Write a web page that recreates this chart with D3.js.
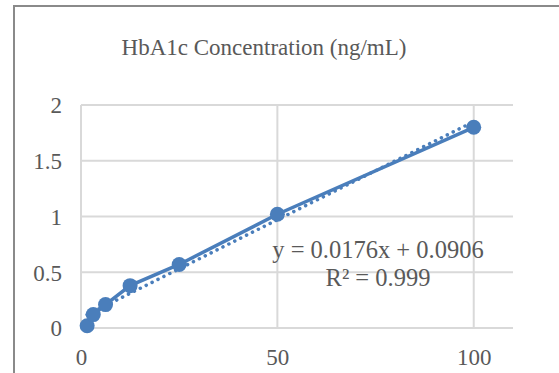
<!DOCTYPE html>
<html>
<head>
<meta charset="utf-8">
<script src="https://cdn.jsdelivr.net/npm/d3@7"></script>
<style>
  html, body { margin: 0; padding: 0; background: #fff; }
  svg { display: block; }
  text { font-family: "Liberation Serif", "Times New Roman", serif; fill: #595959; }
</style>
</head>
<body>
<svg id="chart" width="559" height="373"></svg>
<script>
const concentrations = [1.5625, 3.125, 6.25, 12.5, 25, 50, 100];
const readings = [0.02, 0.12, 0.21, 0.38, 0.57, 1.02, 1.80];
const xTicks = [0, 50, 100];
const yTicks = [0, 0.5, 1, 1.5, 2];
const trendSlope = 0.0176;
const trendIntercept = 0.0906;
const chartTitle = 'HbA1c Concentration (ng/mL)';
const equationLines = ['y = 0.0176x + 0.0906', 'R² = 0.999'];

const blue = '#4a7ebb';
const grid = '#d9d9d9';
const serif = '"Liberation Serif", "Times New Roman", serif';

const svg = d3.select('#chart');

// chart frame (cut off at right and bottom in the source picture)
svg.append('rect')
  .attr('x', 14).attr('y', 6)
  .attr('width', 600).attr('height', 420)
  .attr('fill', 'none')
  .attr('stroke', '#8a8a8a')
  .attr('stroke-width', 2);

const x = d3.scaleLinear().domain([0, 110]).range([81, 513]);
const y = d3.scaleLinear().domain([0, 2]).range([328, 105]);

// gridlines
svg.append('g')
  .selectAll('line')
  .data(yTicks)
  .join('line')
    .attr('x1', x(0)).attr('x2', x(110))
    .attr('y1', d => y(d)).attr('y2', d => y(d))
    .attr('stroke', grid)
    .attr('stroke-width', 2);

svg.append('g')
  .selectAll('line')
  .data(xTicks)
  .join('line')
    .attr('x1', d => x(d)).attr('x2', d => x(d))
    .attr('y1', y(0)).attr('y2', y(2))
    .attr('stroke', grid)
    .attr('stroke-width', 2);

// axes (labels only, lines drawn as gridlines above)
const xAxis = svg.append('g')
  .attr('transform', `translate(0, ${y(0)})`)
  .call(d3.axisBottom(x).tickValues(xTicks).tickSize(0).tickPadding(21));
const yAxis = svg.append('g')
  .attr('transform', `translate(${x(0) - 19}, 0)`)
  .call(d3.axisLeft(y).tickValues(yTicks).tickSize(0).tickPadding(0).tickFormat(d3.format('')));

[xAxis, yAxis].forEach(a => {
  a.attr('font-family', serif);
  a.select('.domain').remove();
  a.selectAll('text')
    .attr('fill', '#595959')
    .style('font-family', serif)
    .style('font-size', '23px');
});
xAxis.selectAll('text').attr('dy', '0.71em');
yAxis.selectAll('text').attr('dy', '0.34em');

// title
svg.append('text')
  .attr('x', 264).attr('y', 55)
  .attr('text-anchor', 'middle')
  .style('font-family', serif)
  .style('font-size', '23px')
  .text(chartTitle);

const pts = concentrations.map((c, i) => [c, readings[i]]);

// linear trendline (dotted)
const xMin = d3.min(concentrations), xMax = d3.max(concentrations);
svg.append('line')
  .attr('x1', x(xMin)).attr('y1', y(trendSlope * xMin + trendIntercept))
  .attr('x2', x(xMax)).attr('y2', y(trendSlope * xMax + trendIntercept))
  .attr('stroke', blue)
  .attr('stroke-width', 3.5)
  .attr('stroke-linecap', 'round')
  .attr('stroke-dasharray', '0.1 6.5');

// connecting line
svg.append('path')
  .datum(pts)
  .attr('fill', 'none')
  .attr('stroke', blue)
  .attr('stroke-width', 3.5)
  .attr('d', d3.line().x(d => x(d[0])).y(d => y(d[1])));

// markers
svg.append('g')
  .selectAll('circle')
  .data(pts)
  .join('circle')
    .attr('cx', d => x(d[0]))
    .attr('cy', d => y(d[1]))
    .attr('r', 7.5)
    .attr('fill', blue);

// trendline label
svg.append('g')
  .selectAll('text')
  .data(equationLines)
  .join('text')
    .attr('x', 378)
    .attr('y', (d, i) => 258 + i * 28)
    .attr('text-anchor', 'middle')
    .style('font-family', serif)
    .style('font-size', '24.5px')
    .text(d => d);
</script>
</body>
</html>
